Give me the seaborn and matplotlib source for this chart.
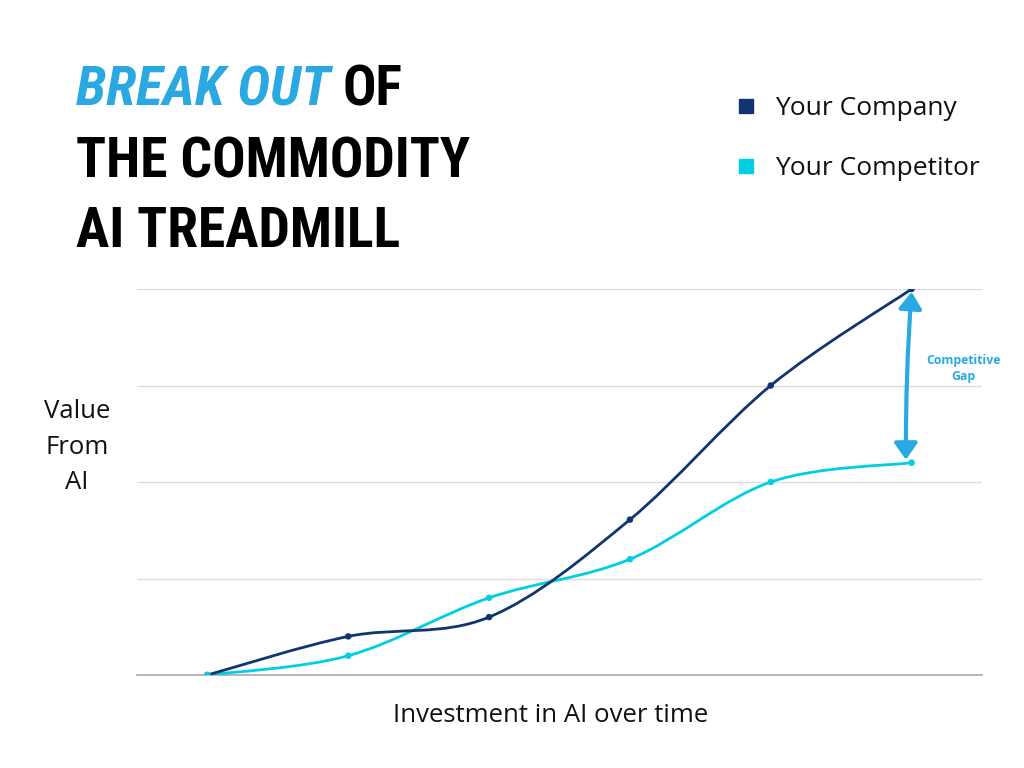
import os
import numpy as np
import pandas as pd
import matplotlib
matplotlib.use("Agg")
import matplotlib.pyplot as plt
import seaborn as sns
from matplotlib.path import Path
from matplotlib.patches import PathPatch
from matplotlib.lines import Line2D
from matplotlib import font_manager

# Data

steps = [0, 1, 2, 3, 4, 5]
company = [0.0, 0.40, 0.60, 1.61, 3.00, 4.00]
competitor = [0.0, 0.20, 0.80, 1.20, 2.00, 2.20]

navy = "#11356f"
cyan = "#00cfe3"
blue = "#29a8e2"

sns.set_theme(style="white")
plt.rcParams["font.family"] = ["Open Sans", "DejaVu Sans"]


# condensed bold font for the title
def font_file(name):
    for f in font_manager.fontManager.ttflist:
        if os.path.basename(f.fname) == name:
            return font_manager.FontProperties(fname=f.fname)
    return None


title_fp = font_file("RobotoCondensed-Bold.ttf") or font_file("DejaVuSansCondensed-Bold.ttf")
title_fp_it = font_file("RobotoCondensed-BoldItalic.ttf") or font_file("DejaVuSansCondensed-BoldOblique.ttf")
if title_fp is None:
    title_fp = font_manager.FontProperties(family="DejaVu Sans", weight="bold")
if title_fp_it is None:
    title_fp_it = font_manager.FontProperties(family="DejaVu Sans", weight="bold", style="italic")

df = pd.DataFrame(
    {
        "step": steps * 2,
        "value": company + competitor,
        "series": ["Your Company"] * len(steps) + ["Your Competitor"] * len(steps),
    }
)

fig = plt.figure(figsize=(10.24, 7.68), dpi=100)
ax = fig.add_axes([137 / 1024, 1 - 675 / 768, (982 - 137) / 1024, (675 - 289) / 768])


def smooth_path(xs, ys):
    # Catmull-Rom style cubic bezier through the points
    pts = np.column_stack([xs, ys]).astype(float)
    verts = [pts[0]]
    codes = [Path.MOVETO]
    n = len(pts)
    for i in range(n - 1):
        p0 = pts[i - 1] if i > 0 else pts[i]
        p1 = pts[i]
        p2 = pts[i + 1]
        p3 = pts[i + 2] if i + 2 < n else pts[i + 1]
        c1 = p1 + (p2 - p0) / 6
        c2 = p2 - (p3 - p1) / 6
        verts += [c1, c2, p2]
        codes += [Path.CURVE4] * 3
    return Path(verts, codes)


for s, col in [("Your Competitor", cyan), ("Your Company", navy)]:
    d = df[df["series"] == s]
    ax.add_patch(
        PathPatch(smooth_path(d["step"], d["value"]), fill=False, edgecolor=col, lw=2, zorder=3)
    )

sns.scatterplot(
    data=df, x="step", y="value", hue="series",
    palette={"Your Company": navy, "Your Competitor": cyan},
    s=22, edgecolor="none", legend=False, ax=ax, zorder=4,
)

ax.set_xlim(-0.5, 5.5)
ax.set_ylim(0, 4)
ax.set_yticks([0, 1, 2, 3, 4])
ax.set_xticks([])
ax.grid(axis="y", color="#dddddd", lw=1)
ax.tick_params(left=False, labelleft=False)
for sp in ["top", "right", "left"]:
    ax.spines[sp].set_visible(False)
ax.spines["bottom"].set_color("#aaaaaa")
ax.spines["bottom"].set_linewidth(1.2)
ax.set_xlabel("")
ax.set_ylabel("")

# competitive gap arrow
ax.annotate(
    "", xy=(4.96, competitor[-1] + 0.03), xytext=(5.0, company[-1] - 0.03),
    arrowprops=dict(arrowstyle="<|-|>,head_length=0.5,head_width=0.35", color=blue, lw=3,
                    connectionstyle="arc3,rad=0.02", mutation_scale=20, shrinkA=0, shrinkB=0),
    zorder=5,
)
fig.text(963 / 1024, 1 - 368 / 768, "Competitive\nGap", color=blue, fontsize=8.8,
         fontweight="bold", ha="center", va="center", linespacing=1.3)

# axis labels
fig.text(77 / 1024, 1 - 447 / 768, "Value\nFrom\nAI", fontsize=18.5, ha="center",
         va="center", linespacing=1.55, color="#111111")
fig.text(551 / 1024, 1 - 716 / 768, "Investment in AI over time", fontsize=18.5,
         ha="center", va="center", color="#111111")

# title
tsize = 45
t1 = fig.text(76 / 1024, 1 - 105 / 768, "BREAK OUT", fontproperties=title_fp_it,
              fontsize=tsize, color=blue, va="baseline")
t2 = fig.text(76 / 1024, 1 - 177 / 768, "THE COMMODITY", fontproperties=title_fp,
              fontsize=tsize, color="black", va="baseline")
t3 = fig.text(76 / 1024, 1 - 247 / 768, "AI TREADMILL", fontproperties=title_fp,
              fontsize=tsize, color="black", va="baseline")
# shrink the title if the widest line runs far past the reference width
renderer = fig.canvas.get_renderer()
w = t2.get_window_extent(renderer).width
if w > 395:
    tsize = tsize * 395 / w
    for t in (t1, t2, t3):
        t.set_fontsize(tsize)
x_end = t1.get_window_extent(renderer).x1
fig.text((x_end + 12) / 1024, 1 - 105 / 768, "OF", fontproperties=title_fp,
         fontsize=tsize, color="black", va="baseline")

# legend
handles = [
    Line2D([], [], marker="s", ls="none", color=navy, markersize=10),
    Line2D([], [], marker="s", ls="none", color=cyan, markersize=10),
]
fig.legend(handles, ["Your Company", "Your Competitor"], loc="upper left",
           bbox_to_anchor=(709 / 1024, 1 - 72 / 768), frameon=False, fontsize=19,
           labelspacing=1.35, handletextpad=0.6, handlelength=1, labelcolor="#111111")

fig.savefig("out.png", dpi=100)
